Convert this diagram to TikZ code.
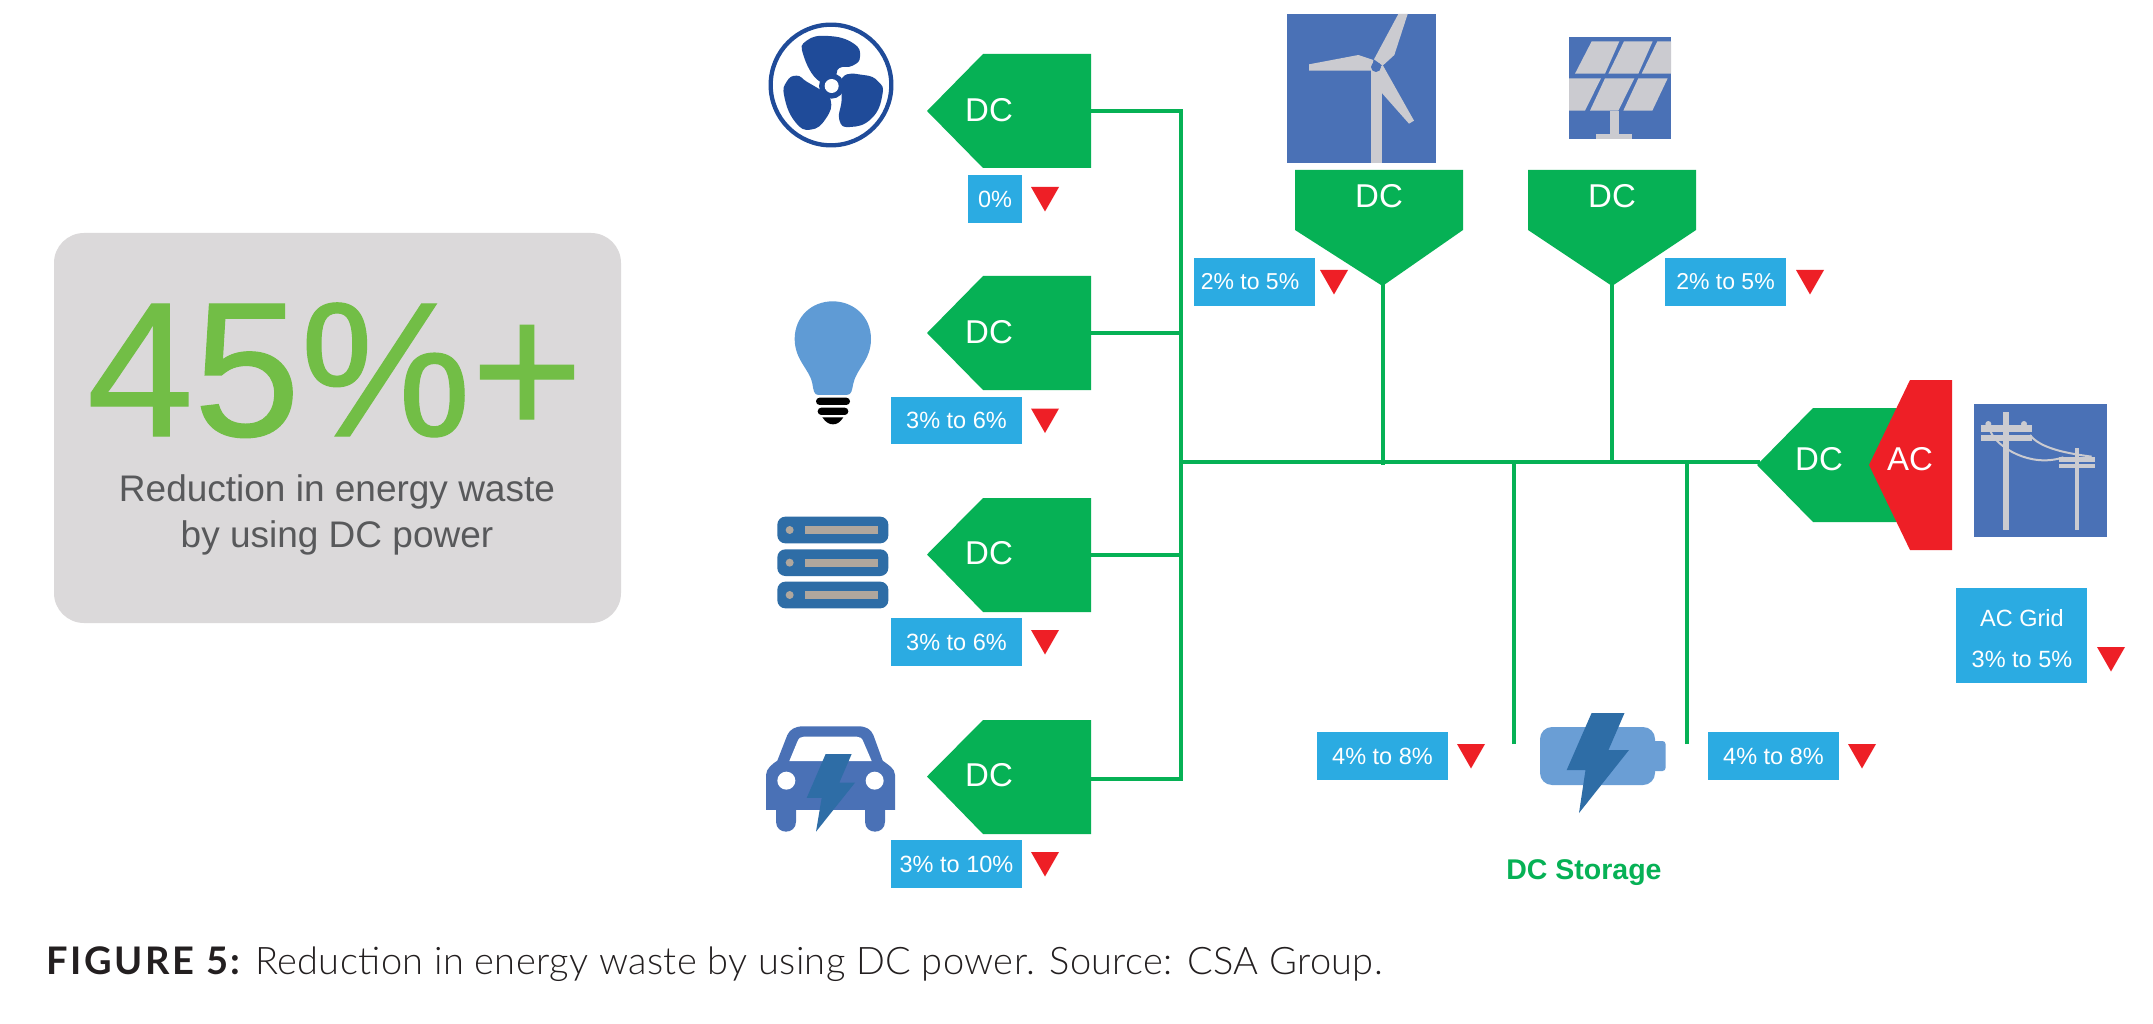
\documentclass[tikz,border=0pt]{standalone}
\usepackage{fontspec}
\setmainfont{Liberation Sans}
\newfontfamily\capfont[LetterSpace=1]{Lato Light}
\newfontfamily\capbold[LetterSpace=7]{Lato Bold}
\newfontfamily\bigfont[FakeBold=0.6]{Liberation Sans}
\definecolor{tgreen}{HTML}{06B155}
\definecolor{tblue}{HTML}{2BABE2}
\definecolor{tred}{HTML}{EE1F26}
\definecolor{boxgrey}{HTML}{DBD9DA}
\definecolor{biggreen}{HTML}{72BE46}
\definecolor{txtgrey}{HTML}{58595B}
\definecolor{iconblue}{HTML}{4A71B6}
\definecolor{icongrey}{HTML}{CBCBD0}
\definecolor{fanblue}{HTML}{1F4B99}
\definecolor{bulbblue}{HTML}{5F9BD5}
\definecolor{steelblue}{HTML}{2E6DA6}
\definecolor{barbrown}{HTML}{B0A79D}
\definecolor{battblue}{HTML}{6A9ED5}
\definecolor{capblack}{HTML}{231F20}
\tikzset{
  wire/.style={draw=tgreen,line width=4pt},
  tagfill/.style={fill=tgreen},
  dctext/.style={text=white,inner sep=0pt,font=\fontsize{33}{36}\selectfont},
  pct/.style={fill=tblue,text=white,inner sep=0pt,align=center,font=\fontsize{23.5}{27}\selectfont},
  dropmark/.style={fill=tred},
  zoomed/.style 2 args={shift={(#1pt,-#2pt)},x=0.33333pt,y=-0.33333pt},
}
\newcommand{\droptri}[2]{\fill[dropmark] (#1,#2) -- ++(28,0) -- ++(-14,24.5) -- cycle;}
\newcommand{\lefttag}[4]{% name, top y, mid y, wire y
  \fill[tagfill] (927,#3) -- (983,#2) -- (1091,#2) -- (1091,#2+114) -- (983,#2+114) -- cycle;
  \node[dctext] (#1) at (989,#3-1) {DC};
  \coordinate (#1e) at (1090,#4);
}
\newcommand{\downtag}[4]{% name, left x, tip x, text x
  \fill[tagfill] (#2,170) -- (#2+168,170) -- (#2+168,230) -- (#3,286) -- (#2,230) -- cycle;
  \node[dctext] (#1) at (#4,196) {DC};
  \coordinate (#1tip) at (#3,284);
}
\begin{document}
\begin{tikzpicture}[x=1pt,y=-1pt]
\useasboundingbox (0,0) rectangle (2153,1024);
\fill[white] (0,0) rectangle (2153,1024);

% summary box
\fill[boxgrey,rounded corners=30pt] (54,233) rectangle (621,623);
\node[anchor=base,inner sep=0pt,text=biggreen,font=\bigfont\fontsize{192}{200}\selectfont] (big) at (335,436) {45\%+};
\node[anchor=base,inner sep=0pt,text=txtgrey,font=\fontsize{37}{40}\selectfont] (sub1) at (337,501.7) {Reduction in energy waste};
\node[anchor=base,inner sep=0pt,text=txtgrey,font=\fontsize{37}{40}\selectfont] (sub2) at (337,547.7) {by using DC power};

% connectors
\coordinate (spine) at (1181,462);
\lefttag{t1}{54}{111}{111}
\lefttag{t2}{276}{333}{333}
\lefttag{t3}{498}{554.5}{554.5}
\lefttag{t4}{720}{776.5}{779}
\downtag{w}{1295}{1382.5}{1379}
\downtag{s}{1528}{1612}{1612}
\coordinate (gridtip) at (1760,462);
\coordinate (b1) at (1514,744);
\coordinate (b2) at (1687,744);
\draw[wire] (t1e) -| (spine);
\draw[wire] (t4e) -| (spine);
\draw[wire] (t2e) -- (t2e -| spine);
\draw[wire] (t3e) -- (t3e -| spine);
\draw[wire] (spine) -- (gridtip);
\draw[wire] (wtip) -- ([yshift=-3pt]wtip |- spine);
\draw[wire] (stip) -- (stip |- spine);
\draw[wire] (b1) -- (b1 |- spine);
\draw[wire] (b2) -- (b2 |- spine);

% DC / AC converter
\fill[tagfill] (1757,465) -- (1813,408) -- (1925,408) -- (1925,522) -- (1813,522) -- cycle;
\fill[tred] (1869,465) -- (1910,380) -- (1952,380) -- (1952,550) -- (1910,550) -- cycle;
\node[dctext] (griddc) at (1819,459) {DC};
\node[dctext] (gridac) at (1910,459) {AC};

% percentage boxes
\node[pct,minimum width=54pt,minimum height=48pt] (p1) at (995,199) {0\%};
\node[pct,minimum width=131pt,minimum height=47pt] (p2) at (956.5,420.5) {3\% to 6\%};
\node[pct,minimum width=131pt,minimum height=48pt] (p3) at (956.5,642) {3\% to 6\%};
\node[pct,minimum width=131pt,minimum height=48pt] (p4) at (956.5,864) {3\% to 10\%};
\node[pct,minimum width=121pt,minimum height=48pt,font=\fontsize{23}{27}\selectfont] (p5) at (1254.5,282) {2\% to 5\%\hspace{9pt}};
\node[pct,minimum width=121pt,minimum height=48pt,font=\fontsize{23}{27}\selectfont] (p6) at (1725.5,282) {2\% to 5\%};
\node[pct,minimum width=131pt,minimum height=48pt] (p7) at (1382.5,756) {4\% to 8\%};
\node[pct,minimum width=131pt,minimum height=48pt] (p8) at (1773.5,756) {4\% to 8\%};
\fill[tblue] (1956,588) rectangle (2087,683);
\node[text=white,inner sep=0pt,font=\fontsize{23.5}{27}\selectfont] (g1) at (2022,618) {AC Grid};
\node[text=white,inner sep=0pt,font=\fontsize{23.5}{27}\selectfont] (g2) at (2022,659) {3\% to 5\%};
\droptri{1031}{187}
\droptri{1031}{408.5}
\droptri{1031}{630}
\droptri{1031}{852}
\droptri{1320}{270}
\droptri{1796}{270}
\droptri{1457}{744}
\droptri{1848}{744}
\droptri{2097}{647}

% fan
\begin{scope}[zoomed={740}{0}]
\draw[fanblue,line width=4.3pt] (273,255) circle (181);
\fill[fanblue] plot[smooth cycle,tension=.85] coordinates {(237,243) (190,165) (200,122) (265,108) (340,130) (360,170) (338,197) (298,204) (283,228)};
\fill[fanblue] plot[smooth cycle,tension=.85] coordinates {(308,232) (370,225) (415,245) (427,285) (395,355) (330,381) (298,360) (305,300)};
\fill[fanblue] plot[smooth cycle,tension=.85] coordinates {(236,266) (200,245) (170,227) (140,245) (133,290) (165,365) (212,389) (258,355) (272,300)};
\fill[fanblue] (275,258) circle (38);
\fill[white] (275,258) circle (21);
\end{scope}

% bulb
\begin{scope}[zoomed={740}{0}]
\fill[bulbblue] (235,1185) .. controls (222,1185) and (220,1170) .. (217,1150)
  .. controls (210,1110) and (164,1080) .. (164,1017)
  .. controls (164,950) and (215,904) .. (278,904)
  .. controls (341,904) and (393,950) .. (393,1017)
  .. controls (393,1080) and (350,1105) .. (340,1150)
  .. controls (336,1170) and (335,1185) .. (320,1185) -- cycle;
\fill[black,rounded corners=3.6pt] (228,1193) rectangle (330,1215);
\fill[black,rounded corners=3.6pt] (233,1223) rectangle (325,1245);
\fill[black] (247,1252) -- (310,1252) .. controls (300,1268) and (290,1273) .. (279,1273) .. controls (268,1273) and (258,1268) .. (247,1252) -- cycle;
\end{scope}

% servers and car
\begin{scope}[zoomed={740}{470}]
\foreach \yy in {140,238,335}{
  \fill[steelblue,rounded corners=8pt] (112,\yy) rectangle (445,\yy+80);
  \fill[barbrown] (149,\yy+40) circle (12);
  \fill[barbrown] (195,\yy+28) rectangle (415,\yy+52);
}
\fill[iconblue] (78,1020) -- (78,915) .. controls (78,895) and (100,880) .. (112,872)
  -- (142,795) .. controls (150,778) and (165,769) .. (190,769)
  -- (355,769) .. controls (380,769) and (392,778) .. (400,795)
  -- (428,872) .. controls (445,885) and (465,895) .. (465,915)
  -- (465,1020) -- (435,1020) -- (435,1055) .. controls (435,1075) and (420,1085) .. (405,1085)
  .. controls (390,1085) and (375,1075) .. (375,1055) -- (375,1020)
  -- (168,1020) -- (168,1055) .. controls (168,1075) and (153,1085) .. (138,1085)
  .. controls (123,1085) and (108,1075) .. (108,1055) -- (108,1020) -- cycle;
\fill[white] (148,873) -- (172,815) .. controls (176,804) and (182,800) .. (192,800) -- (350,800) .. controls (360,800) and (366,804) .. (370,815) -- (395,873) -- cycle;
\fill[white] (139,932) circle (27);
\fill[white] (404,932) circle (27);
\fill[steelblue] (257,852) -- (335,852) -- (298,938) -- (345,938) -- (228,1085) -- (245,984) -- (200,984) -- cycle;
\end{scope}

% wind turbine and solar panel
\begin{scope}[zoomed={1260}{0}]
\fill[iconblue] (81,42) rectangle (528,490);
\fill[icongrey] (333,210) rectangle (366,490);
\fill[icongrey] (415,42) -- (443,42) -- (403,165) -- (368,197) -- (342,178) -- cycle;
\fill[icongrey] (147,193) -- (295,165) -- (340,180) -- (335,212) -- (147,212) -- cycle;
\fill[icongrey] (368,195) -- (462,362) -- (447,371) -- (362,275) -- (340,215) -- cycle;
\fill[iconblue] (348,201) circle (15);
\fill[iconblue] (927,112) rectangle (1233,418);
\fill[icongrey] (945,221) -- (995,124) -- (1078,124) -- (1035,221) -- cycle;
\fill[icongrey] (1045,221) -- (1092,124) -- (1178,124) -- (1135,221) -- cycle;
\fill[icongrey] (1145,221) -- (1192,124) -- (1233,124) -- (1233,221) -- cycle;
\fill[icongrey] (927,235) -- (1023,235) -- (975,332) -- (927,332) -- cycle;
\fill[icongrey] (1035,235) -- (1123,235) -- (1075,332) -- (990,332) -- cycle;
\fill[icongrey] (1135,235) -- (1223,235) -- (1177,332) -- (1090,332) -- cycle;
\fill[icongrey] (1050,332) rectangle (1076,402);
\fill[icongrey] (1008,402) rectangle (1116,418);
\end{scope}

% power lines
\begin{scope}[zoomed={1730}{360}]
\fill[iconblue] (733,133) rectangle (1130,530);
\fill[icongrey] (820,157) rectangle (838,510);
\fill[icongrey] (753,196) rectangle (905,216);
\fill[icongrey] (753,225) rectangle (905,243);
\fill[icongrey] (775,192) circle (9);
\fill[icongrey] (882,192) circle (9);
\fill[icongrey] (1034,265) rectangle (1047,510);
\fill[icongrey] (988,290) rectangle (1094,305);
\fill[icongrey] (988,312) rectangle (1094,325);
\draw[icongrey,line width=2pt] (900,225) .. controls (930,265) and (1010,280) .. (1085,290);
\draw[icongrey,line width=2pt] (782,215) .. controls (800,260) and (900,325) .. (1000,292);
\end{scope}

% battery
\fill[battblue,rounded corners=3pt] (1640,741) rectangle (1665.5,771);
\fill[battblue,rounded corners=12pt] (1540,727) rectangle (1655,785);
\fill[steelblue] (1591.6,713) -- (1624.5,713) -- (1608.5,750) -- (1629,750) -- (1579,813) -- (1585.5,770) -- (1566.7,770) -- cycle;
\node[text=tgreen,inner sep=0pt,font=\bfseries\fontsize{28.5}{30}\selectfont] (store) at (1584,873) {DC Storage};

% caption
\node[anchor=base west,inner sep=0pt,text=capblack,font=\capbold\fontsize{38}{42}\selectfont] (capb) at (46,974) {FIGURE 5:};
\node[anchor=base west,inner sep=0pt,text=capblack,font=\capfont\fontsize{38}{42}\selectfont] (capn) at (255,974) {Reduction in energy waste by using DC power. Source: CSA Group.};
\end{tikzpicture}
\end{document}
